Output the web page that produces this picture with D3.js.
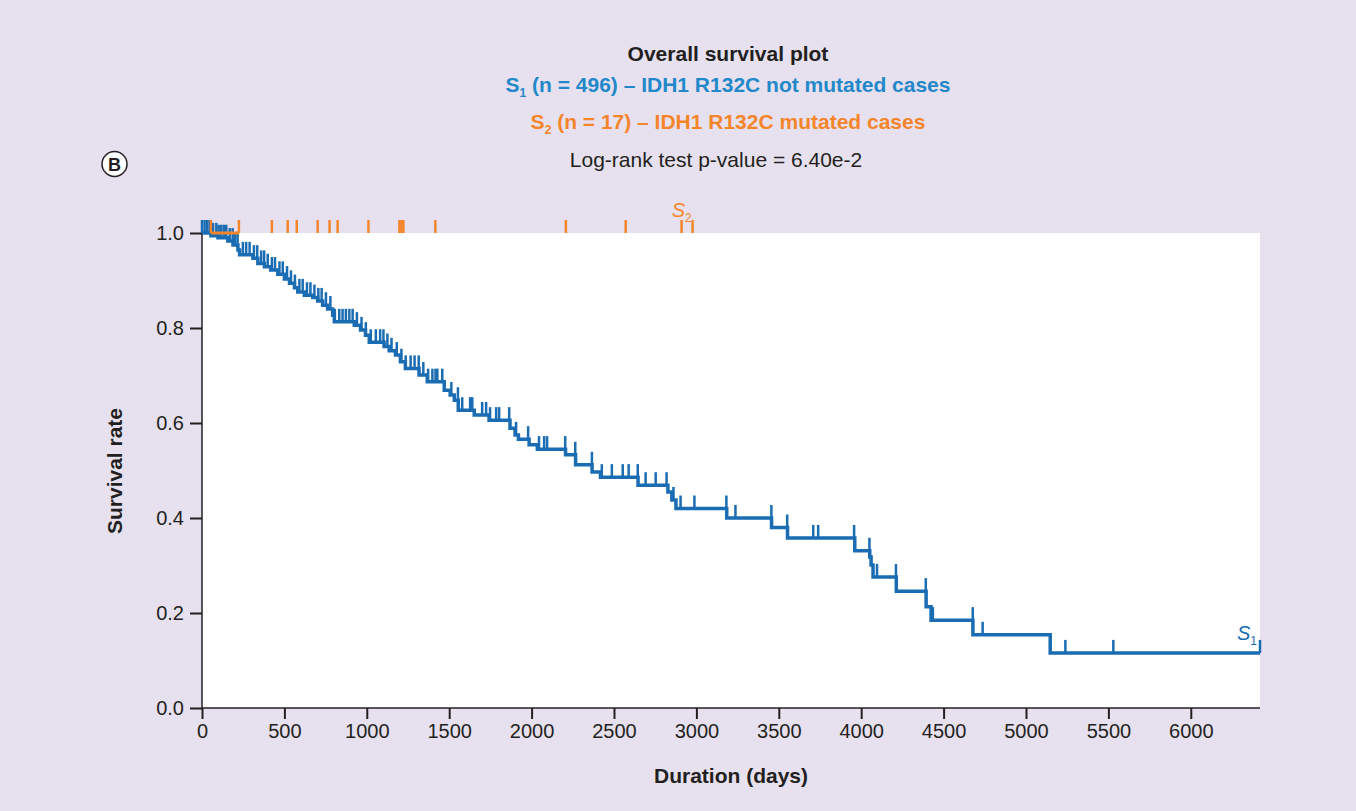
<!DOCTYPE html>
<html>
<head>
<meta charset="utf-8">
<script src="https://cdn.jsdelivr.net/npm/d3@7"></script>
<style>
  body { margin: 0; background: #e7e1ef; }
  text { font-family: "Liberation Sans", Arial, sans-serif; }
</style>
</head>
<body>
<div id="chart"></div>
<script>
// ---- data ----
// S1 Kaplan-Meier step drops: day of event and survival after it
const s1DropDays = [54, 97, 157, 188, 218, 228, 309, 339, 379, 417, 460, 500, 531, 561, 581, 621, 672, 702, 732, 762,
  793, 803, 924, 962, 992, 1015, 1105, 1136, 1174, 1204, 1234, 1317, 1367, 1470, 1506, 1531, 1555, 1652, 1742, 1869,
  1900, 1920, 1985, 2035, 2206, 2267, 2367, 2418, 2646, 2827, 2851, 2876, 3184, 3456, 3553, 3961, 4052, 4060, 4072,
  4213, 4394, 4424, 4678, 5147];
const s1DropSurv = [0.994, 0.990, 0.983, 0.975, 0.964, 0.954, 0.947, 0.936, 0.929, 0.922, 0.913, 0.903, 0.894, 0.885,
  0.876, 0.869, 0.864, 0.857, 0.848, 0.840, 0.827, 0.813, 0.806, 0.796, 0.785, 0.770, 0.761, 0.752, 0.743, 0.729,
  0.715, 0.701, 0.687, 0.669, 0.659, 0.648, 0.627, 0.617, 0.606, 0.589, 0.575, 0.566, 0.554, 0.545, 0.533, 0.512,
  0.497, 0.486, 0.469, 0.455, 0.438, 0.420, 0.400, 0.380, 0.358, 0.331, 0.318, 0.301, 0.276, 0.246, 0.213, 0.185,
  0.154, 0.116];
// S1 censored cases (days)
const s1CensorDays = [0, 16, 32, 47, 67, 87, 101, 117, 133, 147, 168, 186, 201, 216, 248, 268, 289, 315, 335, 359,
  377, 399, 424, 443, 470, 490, 516, 540, 564, 591, 611, 637, 658, 682, 706, 726, 752, 779, 806, 833, 853, 873, 894,
  914, 940, 968, 994, 1024, 1055, 1081, 1101, 1125, 1150, 1182, 1210, 1236, 1266, 1290, 1315, 1343, 1372, 1398, 1417,
  1428, 1458, 1513, 1553, 1579, 1627, 1640, 1700, 1724, 1748, 1785, 1803, 1864, 1906, 1979, 2045, 2076, 2094, 2204,
  2265, 2366, 2426, 2487, 2553, 2589, 2644, 2692, 2753, 2819, 2861, 2904, 2988, 3182, 3237, 3455, 3551, 3709, 3739,
  3957, 4050, 4096, 4211, 4392, 4435, 4677, 4737, 5239, 5530, 6420];
const s1EndDay = 6420;
// S2: no events, all censored
const s2CensorDays = [54, 224, 424, 520, 575, 702, 774, 823, 1010, 1198, 1210, 1222, 1416, 2208, 2571, 2910, 2977];
const s2LineDays = [54, 224];

const xTicks = [0, 500, 1000, 1500, 2000, 2500, 3000, 3500, 4000, 4500, 5000, 5500, 6000];
const yTicks = [0, 0.2, 0.4, 0.6, 0.8, 1.0];

const blue = "#1a6cb3";
const blueText = "#2288c9";
const orange = "#f5852b";

// ---- layout ----
const margin = {top: 233, right: 96, bottom: 103, left: 202};
const width = 1356 - margin.left - margin.right;
const height = 811 - margin.top - margin.bottom;

const root = d3.select("#chart")
    .append("svg")
    .attr("width", 1356)
    .attr("height", 811);

root.append("rect")
    .attr("width", 1356).attr("height", 811)
    .attr("fill", "#e7e1ef");

const svg = root.append("g")
    .attr("transform", "translate(" + margin.left + "," + margin.top + ")");

svg.append("rect")
    .attr("width", width).attr("height", height)
    .attr("fill", "#fff");

const x = d3.scaleLinear().domain([0, 6420]).range([0, width]);
const y = d3.scaleLinear().domain([0, 1]).range([height, 0]);

// axes
const xAxis = svg.append("g")
    .attr("transform", "translate(0," + height + ")")
    .call(d3.axisBottom(x).tickValues(xTicks).tickSize(11).tickPadding(5).tickFormat(d3.format("d")));
xAxis.select(".domain").attr("d", "M0,0H" + width).attr("stroke", "#231f20").attr("stroke-width", 1.5);

const yAxis = svg.append("g")
    .call(d3.axisLeft(y).tickValues(yTicks).tickSize(12).tickPadding(6).tickFormat(d3.format(".1f")));
yAxis.select(".domain").attr("d", "M0," + height + "V0").attr("stroke", "#231f20").attr("stroke-width", 1.5);

[xAxis, yAxis].forEach(function(a) {
    a.selectAll(".tick line").attr("stroke", "#231f20").attr("stroke-width", 2);
    a.selectAll(".tick text").attr("fill", "#231f20").style("font-size", "20px");
});

// S1 step curve
const s1Points = [[0, 1]];
s1DropDays.forEach(function(d, i) { s1Points.push([d, s1DropSurv[i]]); });
s1Points.push([s1EndDay, s1DropSurv[s1DropSurv.length - 1]]);

function survAt(t) {
    let s = 1;
    for (let i = 0; i < s1DropDays.length; i++) {
        if (s1DropDays[i] <= t) s = s1DropSurv[i];
    }
    return s;
}

const line = d3.line()
    .x(function(d) { return x(d[0]); })
    .y(function(d) { return y(d[1]); })
    .curve(d3.curveStepAfter);

svg.append("path")
    .datum(s1Points)
    .attr("fill", "none")
    .attr("stroke", blue)
    .attr("stroke-width", 3.5)
    .attr("d", line);

svg.selectAll(".s1cens")
    .data(s1CensorDays)
    .enter().append("line")
    .attr("class", "s1cens")
    .attr("x1", function(d) { return x(d); })
    .attr("x2", function(d) { return x(d); })
    .attr("y1", function(d) { return y(survAt(d)); })
    .attr("y2", function(d) { return y(survAt(d)) - 13; })
    .attr("stroke", blue)
    .attr("stroke-width", 2.5);

// S2 (stays at 1.0)
svg.append("path")
    .datum(s2LineDays.map(function(d) { return [d, 1]; }))
    .attr("fill", "none")
    .attr("stroke", orange)
    .attr("stroke-width", 3)
    .attr("d", line);

svg.selectAll(".s2cens")
    .data(s2CensorDays)
    .enter().append("line")
    .attr("class", "s2cens")
    .attr("x1", function(d) { return x(d); })
    .attr("x2", function(d) { return x(d); })
    .attr("y1", y(1))
    .attr("y2", y(1) - 13)
    .attr("stroke", orange)
    .attr("stroke-width", 2.5);

// curve labels
function curveLabel(g, xpos, ypos, sub, color) {
    const t = g.append("text")
        .attr("x", xpos).attr("y", ypos)
        .attr("fill", color)
        .style("font-size", "20px")
        .style("font-style", "italic");
    t.append("tspan").text("S");
    t.append("tspan").attr("dy", 5).style("font-size", "12px").style("font-style", "normal").text(sub);
}
curveLabel(svg, x(6280), y(0.116) - 13, "1", blue);
curveLabel(svg, x(2850), y(1) - 16, "2", orange);

// titles
function subTitle(ypos, sub, rest, color) {
    const t = root.append("text")
        .attr("x", 728).attr("y", ypos)
        .attr("text-anchor", "middle")
        .attr("fill", color)
        .style("font-size", "21px")
        .style("font-weight", "bold");
    t.append("tspan").text("S");
    t.append("tspan").attr("dy", 5).style("font-size", "12px").text(sub);
    t.append("tspan").attr("dy", -5).text(" " + rest);
}

root.append("text")
    .attr("x", 728).attr("y", 61)
    .attr("text-anchor", "middle")
    .attr("fill", "#231f20")
    .style("font-size", "21px")
    .style("font-weight", "bold")
    .text("Overall survival plot");
subTitle(92, "1", "(n = 496) \u2013 IDH1 R132C not mutated cases", blueText);
subTitle(129, "2", "(n = 17) \u2013 IDH1 R132C mutated cases", orange);
root.append("text")
    .attr("x", 716).attr("y", 167)
    .attr("text-anchor", "middle")
    .attr("fill", "#231f20")
    .style("font-size", "21px")
    .text("Log-rank test p-value = 6.40e-2");

// panel letter
root.append("circle")
    .attr("cx", 114.5).attr("cy", 164).attr("r", 12.5)
    .attr("fill", "#fff").attr("stroke", "#231f20").attr("stroke-width", 1.5);
root.append("text")
    .attr("x", 114.5).attr("y", 171)
    .attr("text-anchor", "middle")
    .attr("fill", "#231f20")
    .style("font-size", "18px")
    .style("font-weight", "bold")
    .text("B");

// axis labels
root.append("text")
    .attr("x", 731).attr("y", 783)
    .attr("text-anchor", "middle")
    .attr("fill", "#231f20")
    .style("font-size", "21px")
    .style("font-weight", "bold")
    .text("Duration (days)");

root.append("text")
    .attr("transform", "translate(122,471) rotate(-90)")
    .attr("text-anchor", "middle")
    .attr("fill", "#231f20")
    .style("font-size", "21px")
    .style("font-weight", "bold")
    .text("Survival rate");
</script>
</body>
</html>
